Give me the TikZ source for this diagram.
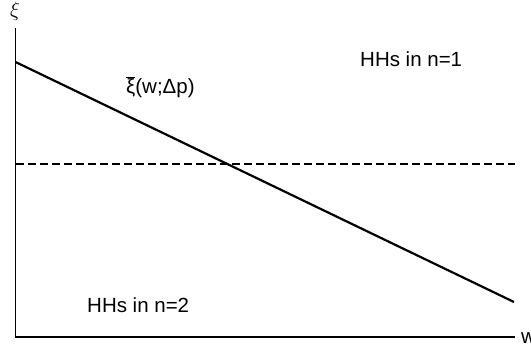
\documentclass[tikz,border=0pt]{standalone}
\usepackage{fontspec}
\setmainfont{Liberation Sans}
\usetikzlibrary{positioning}
\tikzset{
    axisline/.style={draw=black, line width=1.3pt},
    curveline/.style={draw=black, line width=2.2pt},
    thresholdline/.style={draw=black, line width=1.6pt, dash pattern=on 8pt off 4pt},
    plotlabel/.style={font=\fontsize{20.5}{24}\selectfont, inner sep=0pt},
}
\begin{document}
\begin{tikzpicture}[x=1pt, y=-1pt]
    \useasboundingbox (0,0) rectangle (531,349);

    % Axes
    \coordinate (ytop) at (15.5,28);
    \coordinate (origin) at (15.5,337);
    \coordinate (xend) at (515,337);
    \draw[axisline] (ytop) -- (origin) -- (xend);
    \node[plotlabel] (xilabel) at (15,11) {$\xi$};
    \node[plotlabel, anchor=base west] (wlabel) at (521,343) {w};

    % Dashed level
    \coordinate (dashstart) at (15.5,164);
    \coordinate (dashend) at (515,164);
    \draw[thresholdline] (dashstart) -- (dashend);

    % Threshold curve
    \coordinate (curvestart) at (15.5,62);
    \coordinate (curveend) at (514,302);
    \draw[curveline] (curvestart) -- (curveend);

    % Labels
    \node[plotlabel, anchor=base west] (curvelabel) at (126,93) {$\overline{\mbox{ξ}}$(w;Δp)};
    \node[plotlabel, anchor=base west] (upper) at (360,66) {HHs in n=1};
    \node[plotlabel, anchor=base west] (lower) at (87,312) {HHs in n=2};
\end{tikzpicture}
\end{document}
